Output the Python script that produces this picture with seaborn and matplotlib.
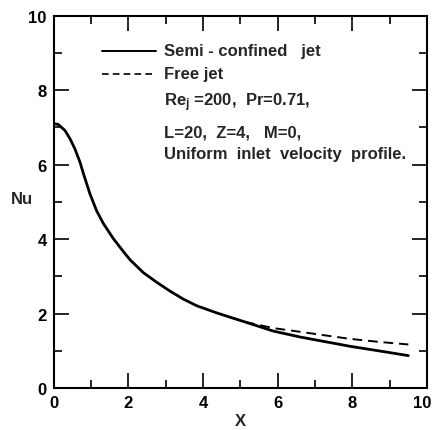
import matplotlib
matplotlib.use("Agg")
import matplotlib.pyplot as plt
import matplotlib.transforms as mtransforms
import seaborn as sns
from matplotlib.ticker import MultipleLocator

# Semi-confined jet
x_semi = [0.0, 0.12, 0.30, 0.44, 0.57, 0.71, 0.79, 0.97, 1.15, 1.33, 1.60, 1.87, 2.05, 2.40,
          2.76, 3.12, 3.47, 3.83, 4.36, 4.73, 5.20, 5.88, 6.60, 7.30, 7.94, 8.70, 9.50]
nu_semi = [7.10, 7.08, 6.92, 6.69, 6.42, 6.05, 5.78, 5.22, 4.76, 4.42, 4.01, 3.66, 3.44, 3.10,
           2.84, 2.60, 2.39, 2.21, 2.02, 1.90, 1.75, 1.53, 1.37, 1.24, 1.12, 1.00, 0.87]

# Free jet (coincides with semi-confined jet up to X~5)
x_free = [4.73, 5.20, 5.88, 6.60, 7.30, 7.94, 8.70, 9.50]
nu_free = [1.90, 1.76, 1.61, 1.51, 1.41, 1.32, 1.24, 1.17]

legend_labels = ["Semi - confined   jet", "Free jet"]
param_lines = ["Re$_\\mathregular{j}$ =200,  Pr=0.71,", "L=20,  Z=4,   M=0,",
               "Uniform  inlet  velocity  profile."]
tick_vals = [0, 2, 4, 6, 8, 10]
tick_labels = ['0', '2', '4', '6', '8', '10']

sns.set_style("ticks")
plt.rcParams['font.family'] = ['Liberation Sans', 'DejaVu Sans']
plt.rcParams['font.weight'] = 'bold'
plt.rcParams['mathtext.default'] = 'regular'

fig = plt.figure(figsize=(4.35, 4.31), dpi=100)
ax = fig.add_axes([0.1234, 0.0974, 0.8582, 0.8639])

sns.lineplot(x=x_semi, y=nu_semi, ax=ax, color='black', lw=2.0, sort=False,
             solid_joinstyle='round', solid_capstyle='round')
sns.lineplot(x=x_free, y=nu_free, ax=ax, color='black', lw=1.4, sort=False,
             linestyle=(0, (5, 3)))

ax.set_xlim(0, 10)
ax.set_ylim(0, 10)
ax.xaxis.set_minor_locator(MultipleLocator(1))
ax.yaxis.set_minor_locator(MultipleLocator(1))
ax.set_xticks(tick_vals)
ax.set_xticklabels(tick_labels)
ax.set_yticks(tick_vals)
ax.set_yticklabels(tick_labels)
ax.tick_params(which='both', direction='in', top=True, right=True, width=1.2,
               colors='black', labelsize=12)
ax.tick_params(which='major', length=11, pad=5)
ax.tick_params(which='minor', length=6)
for s in ax.spines.values():
    s.set_visible(True)
    s.set_linewidth(1.5)
    s.set_color('black')

# nudge the last x tick label left so it stays inside the figure
last = ax.get_xticklabels()[-1]
last.set_transform(last.get_transform() + mtransforms.ScaledTranslation(-5 / 100, 0, fig.dpi_scale_trans))

ax.set_xlabel("X", fontsize=12, fontweight='bold', labelpad=2)
ax.set_ylabel("Nu", fontsize=12, fontweight='bold', rotation=0, va='center', ha='center')
ax.yaxis.set_label_coords(-0.085, 0.508)

# Legend-like annotation
lx0, lx1, tx = 1.3, 2.75, 2.95
ax.plot([lx0, lx1], [9.06, 9.06], color='black', lw=1.4)
ax.plot([lx0, lx1], [8.44, 8.44], color='black', lw=1.2, linestyle=(0, (4, 2.5)))
ax.text(tx, 9.06, legend_labels[0], fontsize=12, va='center', ha='left')
ax.text(tx, 8.44, legend_labels[1], fontsize=12, va='center', ha='left')
for t, yy in zip(param_lines, [7.69, 6.88, 6.29]):
    ax.text(tx, yy, t, fontsize=12, va='center', ha='left')

fig.savefig("out.png", dpi=100)
